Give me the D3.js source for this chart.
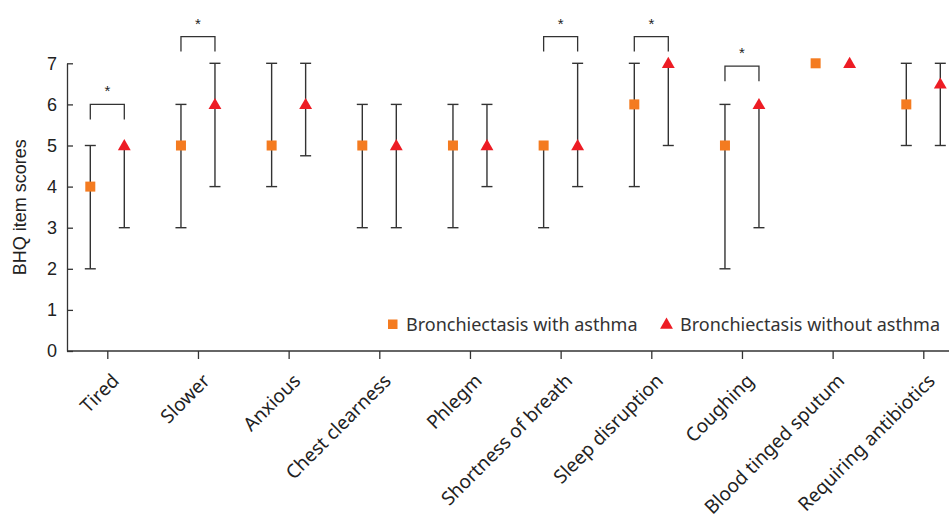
<!DOCTYPE html>
<html>
<head>
<meta charset="utf-8">
<script src="https://cdn.jsdelivr.net/npm/d3@7"></script>
<style>
    body { margin: 0; background: #fff; }
    svg { display: block; }
</style>
</head>
<body>
<div id="chart-area"></div>
<script>
const items = ["Tired", "Slower", "Anxious", "Chest clearness", "Phlegm",
    "Shortness of breath", "Sleep disruption", "Coughing", "Blood tinged sputum", "Requiring antibiotics"];

// bronchiectasis with asthma: median, lower, upper
const withMed = [4, 5, 5, 5, 5, 5, 6, 5, 7, 6];
const withLow = [2, 3, 4, 3, 3, 3, 4, 2, 7, 5];
const withHigh = [5, 6, 7, 6, 6, 5, 7, 6, 7, 7];

// bronchiectasis without asthma
const withoutMed = [5, 6, 6, 5, 5, 5, 7, 6, 7, 6.5];
const withoutLow = [3, 4, 4.75, 3, 4, 4, 5, 3, 7, 5];
const withoutHigh = [5, 7, 7, 6, 6, 7, 7, 6, 7, 7];

// significance brackets
const sigItems = ["Tired", "Slower", "Shortness of breath", "Sleep disruption", "Coughing"];
const sigLevel = [6, 7.65, 7.65, 7.65, 6.93];

const yTicks = [0, 1, 2, 3, 4, 5, 6, 7];

const chartSize = { width: 949, height: 517 };
const margin = { left: 67, top: 63, bottom: 166 };
const axisColor = "#333";
const orange = "#f47b20";
const red = "#ed1c24";

const svg = d3.select("#chart-area")
    .append("svg")
    .attr("width", chartSize.width)
    .attr("height", chartSize.height);

const y = d3.scaleLinear()
    .domain([0, 7])
    .range([chartSize.height - margin.bottom, margin.top + 0.3]);

const x = d3.scalePoint()
    .domain(items)
    .range([107.3, 923.3]);

const off = 17;

// y axis
const yAxis = d3.axisLeft(y).tickValues(yTicks).tickFormat(d3.format("d"))
    .tickSizeInner(-6).tickSizeOuter(0).tickPadding(10);
const gy = svg.append("g")
    .attr("transform", `translate(${margin.left},0)`)
    .call(yAxis);
gy.select(".domain").attr("stroke", axisColor).attr("stroke-width", 1.3);
gy.selectAll(".tick line").attr("stroke", axisColor).attr("stroke-width", 1.3);
gy.selectAll(".tick text")
    .attr("font-family", "Liberation Sans, Arial, sans-serif")
    .attr("font-size", 18)
    .attr("fill", "#222");

svg.append("text")
    .text("BHQ item scores")
    .attr("transform", `translate(26, ${(y(0) + y(7)) / 2}) rotate(-90)`)
    .attr("text-anchor", "middle")
    .attr("font-family", "Liberation Sans, Arial, sans-serif")
    .attr("font-size", 18)
    .attr("fill", "#222");

// x axis
const xAxis = d3.axisBottom(x).tickSizeInner(8).tickSizeOuter(0).tickFormat("");
const gx = svg.append("g")
    .attr("transform", `translate(0,${y(0)})`)
    .call(xAxis);
gx.select(".domain").remove();
gx.selectAll(".tick line").attr("stroke", axisColor).attr("stroke-width", 1.3);
gx.append("line")
    .attr("x1", margin.left).attr("x2", chartSize.width)
    .attr("stroke", axisColor).attr("stroke-width", 1.3);

svg.append("g")
    .selectAll("text")
    .data(items)
    .join("text")
    .text(d => d)
    .attr("transform", d => `translate(${x(d) + 13},${y(0) + 31}) rotate(-45)`)
    .attr("text-anchor", "end")
    .attr("font-family", "Noto Sans, sans-serif")
    .attr("font-size", 19)
    .attr("fill", "#222");

// error bars (no cap where the bound sits on the median marker)
const cap = 5.5;
const drawBars = function (dx, med, low, high) {
    const g = svg.append("g")
        .attr("stroke", axisColor)
        .attr("stroke-width", 1.4);
    items.forEach((item, i) => {
        if (low[i] === high[i]) return;
        const cx = x(item) + dx;
        g.append("line").attr("x1", cx).attr("x2", cx).attr("y1", y(low[i])).attr("y2", y(high[i]));
        [low[i], high[i]].forEach(v => {
            if (v === med[i]) return;
            g.append("line").attr("x1", cx - cap).attr("x2", cx + cap).attr("y1", y(v)).attr("y2", y(v));
        });
    });
};
drawBars(-off, withMed, withLow, withHigh);
drawBars(off, withoutMed, withoutLow, withoutHigh);

// medians
svg.append("g")
    .selectAll("rect")
    .data(withMed)
    .join("rect")
    .attr("x", (d, i) => x(items[i]) - off - 5)
    .attr("y", d => y(d) - 5)
    .attr("width", 10)
    .attr("height", 10)
    .attr("fill", orange);

const tri = d3.symbol().type(d3.symbolTriangle).size(72);
svg.append("g")
    .selectAll("path")
    .data(withoutMed)
    .join("path")
    .attr("d", tri)
    .attr("transform", (d, i) => `translate(${x(items[i]) + off},${y(d) + 1})`)
    .attr("fill", red);

// significance
const gs = svg.append("g");
sigItems.forEach((item, i) => {
    const top = y(sigLevel[i]);
    gs.append("path")
        .attr("d", `M${x(item) - off},${top + 15}V${top}H${x(item) + off}V${top + 15}`)
        .attr("fill", "none")
        .attr("stroke", axisColor)
        .attr("stroke-width", 1.3);
    gs.append("text")
        .text("*")
        .attr("x", x(item))
        .attr("y", top - 8)
        .attr("text-anchor", "middle")
        .attr("font-family", "Liberation Sans, Arial, sans-serif")
        .attr("font-size", 15)
        .attr("fill", "#222");
});

// legend
const legend = svg.append("g").attr("font-family", "Noto Sans, sans-serif").attr("font-size", 18).attr("fill", "#333");
legend.append("rect").attr("x", 388).attr("y", 319.5).attr("width", 9.5).attr("height", 9.5).attr("fill", orange);
legend.append("text").text("Bronchiectasis with asthma").attr("x", 406).attr("y", 331);
legend.append("path").attr("d", tri).attr("transform", "translate(666.5,325)").attr("fill", red);
legend.append("text").text("Bronchiectasis without asthma").attr("x", 680).attr("y", 331);
</script>
</body>
</html>
